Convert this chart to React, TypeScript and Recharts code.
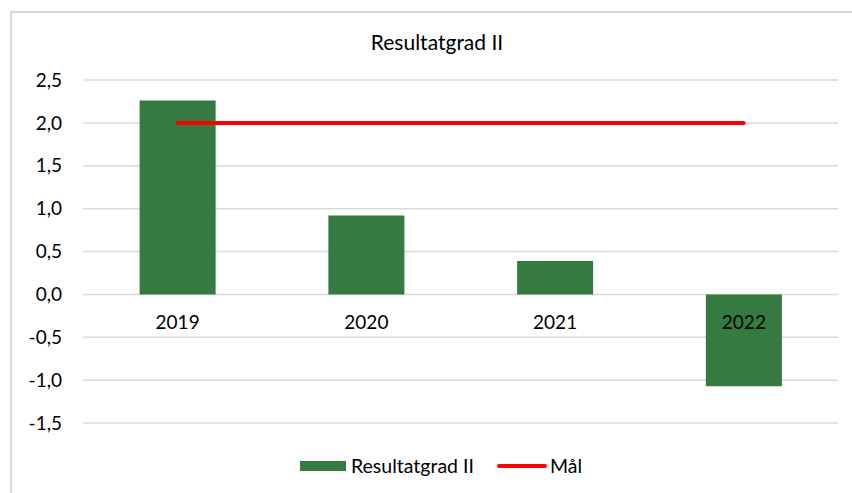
import { ComposedChart, Bar, Line, XAxis, YAxis, CartesianGrid, Legend, LabelList } from "recharts";

const years = ["2019", "2020", "2021", "2022"];
const resultatgrad = [2.26, 0.92, 0.39, -1.07];
const maal = [2.0, 2.0, 2.0, 2.0];
const yTicks = [-1.5, -1.0, -0.5, 0, 0.5, 1.0, 1.5, 2.0, 2.5];

const data = years.map((year, i) => ({
  year,
  resultatgrad: resultatgrad[i],
  maal: maal[i],
}));

const FONT = "Lato, 'Open Sans', sans-serif";
const GREEN = "#357a40";
const RED = "#ff0000";

const fmt = (v: number) => v.toFixed(1).replace(".", ",");

// category labels sit just under the zero line, like Excel's "axis crosses at 0"
const YearLabel = (props: any) => {
  const { x, y, width, height, index } = props;
  const value = resultatgrad[index];
  let zeroY = y + height;
  if (value < 0) zeroY = height < 0 ? y + height : y;
  return (
    <text
      x={x + width / 2}
      y={zeroY + 35}
      textAnchor="middle"
      fontFamily={FONT}
      fontSize={19}
      fill="#000"
    >
      {years[index]}
    </text>
  );
};

const LegendContent = () => (
  <div
    style={{
      display: "flex",
      justifyContent: "center",
      alignItems: "center",
      fontFamily: FONT,
      fontSize: 19.5,
      color: "#000",
    }}
  >
    <span style={{ display: "inline-block", width: 46, height: 10, background: GREEN, marginRight: 5 }} />
    <span style={{ marginRight: 23 }}>Resultatgrad II</span>
    <span style={{ display: "inline-block", width: 50, height: 4, borderRadius: 2, background: RED, marginRight: 3 }} />
    <span>Mål</span>
  </div>
);

export default function App() {
  return (
    <div
      style={{
        position: "absolute",
        left: 0,
        top: 0,
        width: 852,
        height: 493,
        overflow: "hidden",
        background: "#fff",
      }}
    >
      <div
        style={{
          position: "absolute",
          left: 10,
          top: 11,
          width: 900,
          height: 600,
          borderLeft: "2px solid #d9d9d9",
          borderTop: "2px solid #d9d9d9",
        }}
      />
      <div
        style={{
          position: "absolute",
          left: 0,
          width: 874,
          top: 29,
          textAlign: "center",
          fontFamily: FONT,
          fontSize: 21,
          color: "#000",
        }}
      >
        Resultatgrad II
      </div>
      <div style={{ position: "absolute", left: 0, top: 0 }}>
        <ComposedChart
          width={852}
          height={493}
          data={data}
          margin={{ top: 80, right: 14, bottom: 70, left: 23 }}
          barCategoryGap="30%"
        >
          <CartesianGrid vertical={false} stroke="#d9d9d9" strokeWidth={1.5} />
          <XAxis dataKey="year" hide />
          <YAxis
            width={60}
            domain={[-1.5, 2.5]}
            ticks={yTicks}
            interval={0}
            tickFormatter={fmt}
            axisLine={false}
            tickLine={false}
            tickSize={0}
            tickMargin={21}
            tick={{ fontFamily: FONT, fontSize: 19, fill: "#000" }}
          />
          <Legend
            verticalAlign="middle"
            align="center"
            layout="horizontal"
            wrapperStyle={{ top: 454, left: 30, width: 822 }}
            content={<LegendContent />}
          />
          <Bar dataKey="resultatgrad" name="Resultatgrad II" fill={GREEN} isAnimationActive={false}>
            <LabelList dataKey="resultatgrad" content={<YearLabel />} />
          </Bar>
          <Line
            dataKey="maal"
            name="Mål"
            type="linear"
            stroke={RED}
            strokeWidth={4}
            strokeLinecap="round"
            dot={false}
            activeDot={false}
            isAnimationActive={false}
          />
        </ComposedChart>
      </div>
    </div>
  );
}
